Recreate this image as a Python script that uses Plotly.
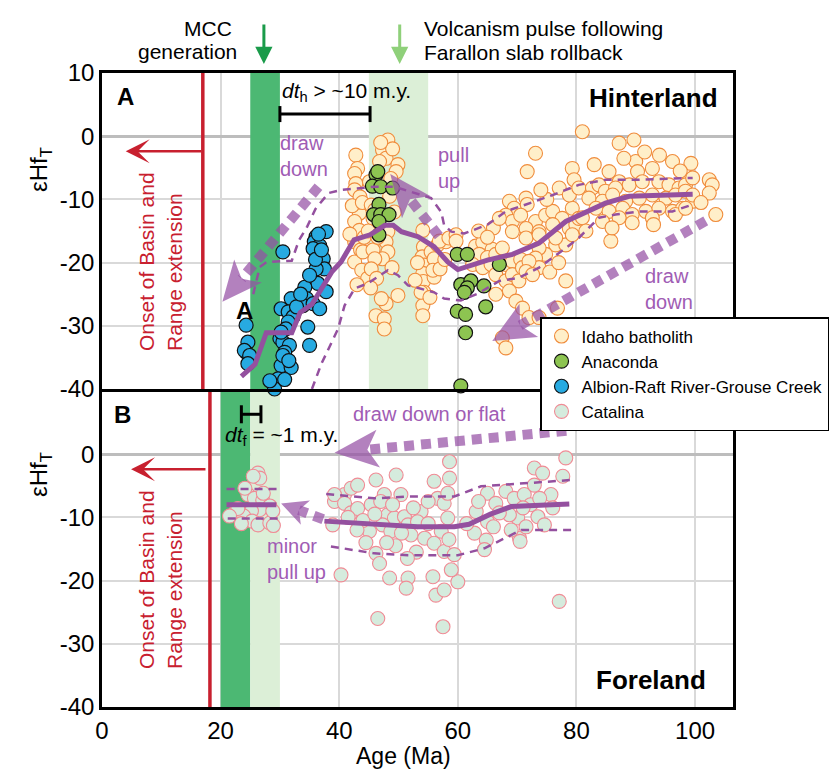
import math
import plotly.graph_objects as go

# ---------------- data ----------------
IDAHO = [
    # 40-45 Ma column
    (42.8, -3.0), (43.1, -5.1), (42.6, -5.9), (42.8, -7.5), (42.6, -8.5), (43.5, -9.6), (43.4, -12.2),
    (42.6, -13.5), (43.4, -14.9), (42.6, -16.7), (43.6, -18.0), (42.6, -19.9), (43.8, -21.2), (44.8, -22.5),
    (44.0, -18.3), (42.2, -11.0), (43.9, -10.5), (41.8, -15.5), (44.2, -16.0), (43.0, -23.5),
    # 45-51 Ma column
    (48.2, -0.6), (47.3, -2.2), (47.9, -3.5), (46.8, -4.0), (49.9, -4.5), (49.6, -5.6), (45.1, -7.2),
    (48.7, -6.7), (45.4, -10.9), (46.0, -11.7), (45.7, -13.0), (48.2, -15.1), (47.9, -16.7), (48.2, -18.3),
    (47.3, -19.4), (45.7, -18.0), (46.0, -19.4), (45.4, -21.0), (49.9, -25.2), (47.9, -26.5), (46.2, -28.4),
    (47.6, -28.9), (47.6, -30.5), (47.1, -25.7), (48.5, -9.5), (49.3, -12.0), (46.5, -16.0), (44.9, -15.0),
    (48.9, -20.8), (46.3, -22.5), (45.3, -24.0), (49.0, -2.0), (47.0, -1.0),
    # 52-60 Ma column
    (54.1, -14.9), (54.2, -17.5), (54.0, -19.1), (54.4, -20.4), (54.1, -21.7), (54.2, -23.0), (54.3, -24.7),
    (54.1, -26.8), (54.1, -28.4), (55.5, -18.3), (56.0, -19.4), (56.6, -17.2), (58.0, -16.7), (56.0, -22.3),
    (55.8, -21.2), (53.8, -24.7), (55.3, -25.5), (57.0, -21.0), (56.9, -16.6), (58.5, -16.1), (59.7, -15.6),
    (53.2, -20.0), (57.8, -19.5), (52.8, -22.8),
    # 60-80 Ma lower group
    (59.7, -16.6), (63.0, -17.4), (64.2, -16.8), (65.8, -17.9), (63.6, -18.7), (65.0, -19.2), (66.4, -18.7),
    (67.5, -17.7), (62.5, -20.3), (64.2, -20.8), (65.6, -20.3), (68.1, -20.3), (69.2, -19.8), (70.6, -19.5),
    (66.4, -21.9), (68.1, -22.9), (69.2, -21.9), (70.9, -20.8), (70.3, -22.9), (66.4, -25.0), (68.7, -24.5),
    (69.8, -26.1), (70.9, -27.2), (67.5, -31.9), (68.1, -33.5), (72.0, -28.7), (73.7, -28.7), (76.8, -27.2),
    (78.2, -22.9), (76.5, -17.2), (78.2, -17.2), (74.8, -18.7), (73.7, -17.7), (73.1, -19.3), (73.7, -20.8),
    (72.0, -19.8), (71.5, -21.4), (72.6, -21.9), (75.5, -21.5), (77.0, -20.0),
    # 60-80 Ma upper group
    (68.7, -10.3), (69.5, -11.4), (71.5, -9.8), (71.7, -10.8), (68.1, -12.5), (69.2, -13.5), (70.6, -12.5),
    (73.1, -13.5), (74.8, -12.5), (76.0, -11.9), (77.6, -13.0), (79.3, -11.4), (69.2, -15.1), (71.5, -14.6),
    (73.7, -15.1), (76.0, -14.0), (78.8, -14.6), (79.9, -14.0), (71.5, -16.1), (73.7, -15.6), (76.5, -16.1),
    (79.3, -15.6), (80.4, -13.0), (73.1, -2.7), (71.7, -5.6), (79.3, -5.1), (79.6, -6.9), (77.1, -8.2),
    (78.8, -9.3), (80.4, -8.2), (66.0, -14.5), (67.0, -13.0), (63.5, -15.0), (65.0, -16.0), (75.0, -10.0),
    (74.0, -8.5),
    # 80-104 Ma
    (81.0, 0.7), (87.2, -1.1), (89.7, -0.6), (85.5, -5.6), (87.2, -7.2), (90.0, -4.0), (90.3, -5.6),
    (92.8, -5.1), (96.2, -4.0), (99.3, -4.3), (82.7, -8.2), (83.8, -7.7), (84.9, -8.7), (86.6, -8.2),
    (88.9, -7.7), (91.1, -7.2), (93.9, -7.2), (95.6, -7.7), (97.3, -8.2), (98.4, -7.7), (99.6, -6.6),
    (82.1, -9.8), (84.4, -10.3), (86.1, -9.3), (88.3, -10.3), (90.6, -9.8), (92.8, -9.3), (95.1, -9.8),
    (96.7, -9.3), (98.4, -8.7), (83.3, -11.4), (85.5, -11.9), (87.8, -11.4), (89.4, -12.4), (91.7, -11.9),
    (93.9, -11.4), (96.2, -11.9), (97.9, -11.4), (99.6, -10.3), (81.0, -12.9), (84.4, -13.5), (87.2, -12.9),
    (89.4, -13.7), (92.8, -12.9), (96.7, -12.4), (98.4, -11.4), (85.8, -16.6), (81.6, -15.0), (102.4, -6.9),
    (102.9, -7.7), (102.4, -9.0), (103.5, -12.4), (99.6, -9.3), (94.0, -3.0), (88.0, -3.5), (91.5, -2.5),
    (83.0, -4.5), (97.5, -5.5), (101.0, -10.5), (93.0, -14.0), (86.0, -14.5),
]

ANACONDA = [
    (46.2, -6.1), (45.6, -7.9), (47.0, -8.0), (49.0, -8.2), (46.7, -10.8), (45.8, -12.4), (47.0, -12.4),
    (48.4, -12.4), (46.7, -13.5), (46.7, -15.6), (46.5, -5.6), (59.9, -18.7), (61.6, -18.7), (67.0, -20.3),
    (60.5, -23.5), (62.2, -22.9), (61.6, -24.0), (64.4, -23.7), (61.1, -24.7), (59.9, -27.7), (61.3, -28.2),
    (64.7, -27.0), (61.3, -31.1), (60.5, -39.5),
]

ALBION = [
    (24.3, -29.9), (24.6, -32.6), (24.3, -34.2), (24.0, -33.9), (24.9, -34.7), (24.6, -36.0), (30.5, -18.3),
    (37.8, -15.1), (36.1, -15.9), (35.8, -16.7), (36.7, -17.3), (35.6, -17.8), (37.3, -19.4), (37.5, -21.0),
    (36.1, -21.0), (36.4, -23.3), (37.8, -24.6), (34.2, -23.9), (31.9, -25.7), (34.5, -25.7), (33.9, -26.8),
    (35.6, -26.5), (36.7, -27.3), (30.2, -27.3), (31.4, -27.8), (32.2, -28.6), (31.4, -29.4), (34.7, -30.2),
    (35.0, -33.1), (30.0, -32.0), (30.5, -32.6), (31.6, -33.1), (30.8, -34.2), (30.2, -36.3), (31.9, -36.6),
    (29.7, -38.4), (29.1, -40.0), (30.8, -38.5), (28.3, -38.7), (30.5, -34.7), (31.0, -30.5), (30.2, -31.0),
    (32.8, -27.0), (33.5, -25.0), (35.0, -22.0), (36.0, -19.5), (36.5, -15.5), (37.0, -18.0), (30.0, -40.2),
    (31.5, -35.5),
]

CATALINA = [
    (26.3, -3.0), (26.6, -3.8), (25.5, -3.5), (24.6, -6.4), (25.7, -7.0), (27.1, -7.3), (28.3, -8.2),
    (26.6, -8.8), (25.2, -9.0), (22.4, -9.3), (23.9, -9.8), (25.3, -10.6), (26.3, -11.2), (28.3, -10.9),
    (28.8, -9.0), (22.9, -8.6), (21.5, -9.8), (24.1, -5.4), (27.2, -6.2), (23.5, -11.0), (28.9, -11.3),
    (39.2, -7.5), (40.9, -6.4), (39.2, -6.4), (40.9, -7.8), (42.0, -5.4), (43.1, -4.9), (46.2, -4.1),
    (49.6, -3.3), (38.9, -11.2), (42.0, -9.3), (43.1, -8.6), (45.4, -8.0), (45.1, -12.2), (47.6, -6.4),
    (50.4, -6.4), (48.2, -9.6), (49.3, -10.1), (51.0, -9.9), (47.3, -11.2), (48.7, -12.2), (51.6, -11.2),
    (46.2, -15.7), (46.8, -17.3), (48.5, -19.6), (51.6, -19.6), (51.3, -21.2), (40.3, -19.1), (46.5, -26.0),
    (57.5, -27.3), (56.3, -22.3), (57.7, -21.5), (60.0, -20.2), (58.9, -18.3), (55.8, -19.4), (53.8, -9.1),
    (53.2, -10.7), (52.1, -12.8), (54.4, -13.3), (56.0, -14.1), (57.7, -15.4), (59.4, -15.9), (57.2, -12.2),
    (58.3, -10.1), (56.6, -7.0), (57.7, -7.8), (56.0, -4.3), (58.6, -3.8), (58.6, -1.2), (58.3, -6.2),
    (47.0, -7.5), (49.0, -8.0), (44.0, -10.5), (46.0, -9.5), (50.5, -12.5), (52.5, -8.5), (44.5, -14.0),
    (55.0, -11.0), (43.0, -12.0), (49.5, -14.5), (53.0, -15.5), (58.5, -13.5), (51.5, -16.5), (41.5, -10.0),
    (55.0, -7.5), (48.0, -14.0),
    (63.1, -9.1), (65.0, -6.2), (66.4, -7.8), (68.1, -5.9), (69.5, -7.0), (71.2, -6.4), (72.9, -2.2),
    (74.3, -3.0), (75.7, -6.4), (72.9, -4.9), (72.3, -8.0), (70.1, -10.1), (68.7, -9.6), (67.0, -9.3),
    (65.0, -10.7), (62.8, -12.5), (64.8, -13.6), (64.5, -15.1), (70.4, -13.3), (73.5, -9.9), (74.6, -11.2),
    (77.7, -3.5), (78.2, -0.6), (77.1, -23.3), (71.0, -8.5), (73.8, -7.0), (66.0, -11.5), (69.0, -12.0),
    (61.5, -11.0), (63.5, -7.5), (76.0, -8.5), (71.5, -11.5), (70.5, -13.8),
]

# running median and envelopes, panel A (hinterland)
MED_A_X = [23.5, 25.8, 27.7, 32.0, 33.4, 35.4, 38.8, 40.3, 42.5, 45.2, 47.7, 49.1, 50.5, 53.3, 56.0, 58.3,
           60.0, 62.8, 65.0, 69.2, 73.7, 78.2, 84.9, 88.9, 99.6]
MED_A_Y = [-38.0, -36.1, -31.1, -31.1, -27.9, -26.6, -21.4, -19.9, -16.4, -15.6, -14.1, -14.1, -15.1, -15.9,
           -17.5, -19.9, -21.1, -20.2, -19.6, -18.7, -16.9, -13.5, -10.6, -9.5, -9.2]
UP_A_X = [25.5, 26.6, 27.8, 32.0, 33.2, 34.6, 36.0, 38.2, 40.3, 43.1, 45.9, 49.3, 52.1, 55.5, 57.2, 57.7,
          58.9, 61.1, 65.0, 68.1, 71.5, 76.0, 80.4, 84.9, 90.6, 99.6]
UP_A_Y = [-25.0, -20.7, -19.9, -19.7, -16.5, -14.3, -11.5, -9.0, -8.5, -8.3, -8.0, -8.0, -8.8, -9.8, -12.0,
          -14.1, -15.1, -15.4, -14.0, -11.9, -10.8, -9.3, -7.7, -6.9, -6.9, -6.6]
LO_A_X = [35.4, 37.0, 39.8, 40.9, 42.6, 44.8, 48.2, 49.9, 51.6, 53.8, 56.0, 57.7, 60.5, 63.4, 67.0, 70.3,
          73.7, 78.2, 80.4, 83.8, 86.6, 90.6, 96.2, 99.6]
LO_A_Y = [-40.0, -36.0, -30.5, -26.8, -24.1, -23.3, -21.2, -22.0, -23.6, -24.1, -24.7, -25.7, -26.0, -24.9,
          -22.9, -22.4, -20.8, -17.7, -16.1, -12.9, -12.4, -11.9, -11.9, -10.8]

# panel B (foreland)
MED_B1_X, MED_B1_Y = [21.0, 29.4], [-8.0, -8.0]
UP_B1_X, UP_B1_Y = [21.0, 29.7], [-5.5, -5.5]
LO_B1_X, LO_B1_Y = [21.2, 29.7], [-10.2, -10.2]
MED_B2_X = [37.5, 46.5, 53.2, 59.4, 61.9, 65.5, 69.0, 78.8]
MED_B2_Y = [-10.6, -11.2, -11.5, -11.5, -11.1, -9.5, -8.3, -7.9]
UP_B2_X = [37.8, 45.9, 51.6, 59.4, 63.9, 70.7, 79.1]
UP_B2_Y = [-6.3, -7.0, -6.7, -6.7, -5.1, -4.6, -4.1]
LO_B2_X = [38.6, 45.9, 51.6, 60.0, 64.5, 70.7, 79.1]
LO_B2_Y = [-14.6, -15.7, -16.0, -16.0, -14.9, -12.0, -12.0]

# interpretive arrows: (start, tip) in data units
ARROWS_A = [((36.5, -8.0), (20.3, -26.2)), ((56.8, -15.8), (48.6, -6.0)), ((101.8, -13.4), (65.8, -32.4))]
ARROWS_B = [((78.3, 3.7), (39.2, 0.2)), ((37.3, -10.3), (30.2, -7.8))]

# time windows (Ma)
BANDS_A = [(25, 30, "dark"), (45, 55, "light")]
BANDS_B = [(20, 25, "dark"), (25, 30, "light")]
ONSET_A, ONSET_B = 17.0, 18.2
DT_H = (30.0, 45.2)
DT_F = (23.5, 26.8)

X_TICKS = [0, 20, 40, 60, 80, 100]
YA_TICKS = [10, 0, -10, -20, -30, -40]
YB_TICKS = [0, -10, -20, -30, -40]

# ---------------- layout constants ----------------
W, H = 838, 771
ML, MR, MT, MB = 94, 113, 65, 72
X_RANGE = [0, 106.4]
YA_RANGE = [-40, 10]
YB_RANGE = [-40, 10.3]
SPLIT = 0.5016
KX = (W - ML - MR) / (X_RANGE[1] - X_RANGE[0])
PH = H - MT - MB
PW = W - ML - MR
KYA = PH * (1 - SPLIT) / (YA_RANGE[1] - YA_RANGE[0])
KYB = PH * SPLIT / (YB_RANGE[1] - YB_RANGE[0])

FONT = "Liberation Sans, Arial, sans-serif"
PURPLE = "#94509f"
PURPLE_T = "#a05cb4"
ARROW_FILL = "rgba(150,80,165,0.72)"
RED = "#c8202f"
DARK_G = "#4cb873"
LIGHT_G = "#dcefd7"

fig = go.Figure()

def add_points(pts, name, fill, edge, ew, xa, ya):
    fig.add_trace(go.Scatter(
        x=[p[0] for p in pts], y=[p[1] for p in pts], mode="markers", name=name,
        xaxis=xa, yaxis=ya, cliponaxis=False,
        marker=dict(size=14, color=fill, line=dict(color=edge, width=ew)),
    ))

add_points(IDAHO, "Idaho batholith", "#ffefc9", "#f08c3c", 1.1, "x2", "y2")
add_points(ANACONDA, "Anaconda", "#8dc451", "#111111", 1.2, "x2", "y2")
add_points(ALBION, "Albion-Raft River-Grouse Creek", "#27aae1", "#111111", 1.2, "x2", "y2")
add_points(CATALINA, "Catalina", "#d5ebdd", "#f08b95", 1.1, "x", "y")

def add_line(xs, ys, xa, ya, width, dash):
    fig.add_trace(go.Scatter(x=xs, y=ys, mode="lines", xaxis=xa, yaxis=ya, showlegend=False,
                             hoverinfo="skip", line=dict(color=PURPLE, width=width, dash=dash)))

DASH = "8px,6px"
add_line(UP_A_X, UP_A_Y, "x2", "y2", 2.5, DASH)
add_line(LO_A_X, LO_A_Y, "x2", "y2", 2.5, DASH)
add_line(MED_A_X, MED_A_Y, "x2", "y2", 5, "solid")
add_line(UP_B1_X, UP_B1_Y, "x", "y", 2.5, DASH)
add_line(LO_B1_X, LO_B1_Y, "x", "y", 2.5, DASH)
add_line(MED_B1_X, MED_B1_Y, "x", "y", 5, "solid")
add_line(UP_B2_X, UP_B2_Y, "x", "y", 2.5, DASH)
add_line(LO_B2_X, LO_B2_Y, "x", "y", 2.5, DASH)
add_line(MED_B2_X, MED_B2_Y, "x", "y", 5, "solid")

shapes = []

def head(start, tip, ky, L, Wd, notch):
    dx = (tip[0] - start[0]) * KX
    dy = (tip[1] - start[1]) * ky
    n = math.hypot(dx, dy)
    ux, uy = dx / n, dy / n
    px, py = -uy, ux
    def d(ox, oy):
        return (tip[0] + ox / KX, tip[1] + oy / ky)
    c1 = d(-ux * L + px * Wd, -uy * L + py * Wd)
    c2 = d(-ux * L - px * Wd, -uy * L - py * Wd)
    nt = d(-ux * (L - notch), -uy * (L - notch))
    path = "M {},{} L {},{} L {},{} L {},{} Z".format(tip[0], tip[1], c1[0], c1[1], nt[0], nt[1], c2[0], c2[1])
    return path, nt

def add_arrow(start, tip, xa, ya, ky, L, Wd, notch):
    path, nt = head(start, tip, ky, L, Wd, notch)
    fig.add_trace(go.Scatter(x=[start[0], nt[0]], y=[start[1], nt[1]], mode="lines", xaxis=xa, yaxis=ya,
                             showlegend=False, hoverinfo="skip",
                             line=dict(color=ARROW_FILL, width=10, dash="10px,7px")))
    shapes.append(dict(type="path", path=path, xref=xa, yref=ya, fillcolor=ARROW_FILL,
                       line=dict(width=0), layer="above"))

add_arrow(*ARROWS_A[0], "x2", "y2", KYA, 40, 18, 10)
add_arrow(*ARROWS_A[1], "x2", "y2", KYA, 42, 18, 10)
add_arrow(*ARROWS_A[2], "x2", "y2", KYA, 42, 19, 10)
add_arrow(*ARROWS_B[0], "x", "y", KYB, 44, 19, 11)
add_arrow(*ARROWS_B[1], "x", "y", KYB, 26, 13, 7)

# bands
for x0, x1, kind in BANDS_A:
    shapes.append(dict(type="rect", xref="x2", yref="y2", x0=x0, x1=x1, y0=YA_RANGE[0], y1=YA_RANGE[1],
                       fillcolor=DARK_G if kind == "dark" else LIGHT_G, line=dict(width=0), layer="between"))
for x0, x1, kind in BANDS_B:
    shapes.append(dict(type="rect", xref="x", yref="y", x0=x0, x1=x1, y0=YB_RANGE[0], y1=YB_RANGE[1],
                       fillcolor=DARK_G if kind == "dark" else LIGHT_G, line=dict(width=0), layer="between"))
# onset lines
shapes.append(dict(type="line", xref="x2", yref="y2", x0=ONSET_A, x1=ONSET_A, y0=YA_RANGE[0], y1=YA_RANGE[1],
                   line=dict(color=RED, width=3.5), layer="between"))
shapes.append(dict(type="line", xref="x", yref="y", x0=ONSET_B, x1=ONSET_B, y0=YB_RANGE[0], y1=YB_RANGE[1],
                   line=dict(color=RED, width=3.5), layer="between"))

# dt bars
def hbar(x0, x1, y, xa, ya, ky, cap_px):
    c = cap_px / ky
    for seg in [(x0, y, x1, y), (x0, y - c, x0, y + c), (x1, y - c, x1, y + c)]:
        shapes.append(dict(type="line", xref=xa, yref=ya, x0=seg[0], y0=seg[1], x1=seg[2], y1=seg[3],
                           line=dict(color="black", width=3), layer="above"))

hbar(DT_H[0], DT_H[1], 3.5, "x2", "y2", KYA, 8)
hbar(DT_F[0], DT_F[1], 6.3, "x", "y", KYB, 9)

ann = []

def txt(text, x, y, xa, ya, size=20, color="black", xanchor="left", yanchor="middle", bold=False,
        angle=0, align="left"):
    ann.append(dict(text=("<b>%s</b>" % text) if bold else text, x=x, y=y, xref=xa, yref=ya,
                    showarrow=False, xanchor=xanchor, yanchor=yanchor, textangle=angle, align=align,
                    font=dict(family=FONT, size=size, color=color)))

# top labels
txt("MCC", 226, 20, "pixel", "pixel", 21, xanchor="right")
txt("generation", 231, 44, "pixel", "pixel", 21, xanchor="right")
txt("Volcanism pulse following", 414, 20, "pixel", "pixel", 21)
txt("Farallon slab rollback", 414, 45, "pixel", "pixel", 21)

def to_paper(a):
    if a["xref"] == "pixel":
        a["x"] = (a["x"] - ML) / PW
        a["xref"] = "paper"
    if a["yref"] == "pixel":
        a["y"] = (H - MB - a["y"]) / PH
        a["yref"] = "paper"
    return a

# panel A texts
txt("A", 3.9, 6.3, "x2", "y2", 24, bold=True, xanchor="center")
txt("Hinterland", 104.2, 6.0, "x2", "y2", 26, bold=True, xanchor="right")
txt("<i>dt</i><sub>h</sub> > ~10 m.y.", 30.0, 7.0, "x2", "y2", 21)
txt("draw<br>down", 29.7, -3.2, "x2", "y2", 20, PURPLE_T)
txt("pull<br>up", 56.3, -5.1, "x2", "y2", 20, PURPLE_T)
txt("draw<br>down", 91.2, -24.1, "x2", "y2", 20, PURPLE_T)
txt("A", 24.1, -27.6, "x2", "y2", 24, bold=True, xanchor="center")
txt("Onset of Basin and<br>Range extension", 9.9, -19.8, "x2", "y2", 21, RED, xanchor="center",
    angle=-90)
# panel B texts
txt("B", 3.4, 6.25, "x", "y", 24, bold=True, xanchor="center")
txt("Foreland", 102.2, -35.8, "x", "y", 26, bold=True, xanchor="right")
txt("<i>dt</i><sub>f</sub> = ~1 m.y.", 20.4, 2.85, "x", "y", 21)
txt("draw down or flat", 42.0, 6.3, "x", "y", 20, PURPLE_T)
txt("minor<br>pull up", 27.5, -16.6, "x", "y", 20, PURPLE_T)
txt("Onset of Basin and<br>Range extension", 9.9, -19.8, "x", "y", 21, RED, xanchor="center", angle=-90)
# axis titles
txt("εHf<sub>T</sub>", 32, 162, "pixel", "pixel", 24, xanchor="center", angle=-90)
txt("εHf<sub>T</sub>", 32, 467, "pixel", "pixel", 24, xanchor="center", angle=-90)
txt("Age (Ma)", 395, 748, "pixel", "pixel", 23, xanchor="center")

ann = [to_paper(a) for a in ann]

# green arrows
for xv, col in [(27.3, "#1a9b4a"), (50.2, "#8fd07a")]:
    ann.append(dict(x=xv, y=(H - MB - 56) / PH, xref="x2", yref="paper", ax=0, ay=-41, axref="pixel",
                    ayref="pixel", showarrow=True, arrowhead=2, arrowsize=1.15, arrowwidth=3, arrowcolor=col,
                    text=""))

# red onset arrows
ann.append(dict(x=4.0, y=-2.4, ax=ONSET_A, ay=-2.4, xref="x2", yref="y2", axref="x2", ayref="y2",
                showarrow=True, arrowhead=3, arrowsize=1.6, arrowwidth=2.5, arrowcolor=RED, text=""))
ann.append(dict(x=4.9, y=-2.4, ax=ONSET_B - 0.5, ay=-2.4, xref="x", yref="y", axref="x", ayref="y",
                showarrow=True, arrowhead=3, arrowsize=1.6, arrowwidth=2.5, arrowcolor=RED, text=""))

axis_common = dict(showline=True, linecolor="black", linewidth=2.5, ticks="",
                   showgrid=True, gridcolor="#d9d9d9", gridwidth=1.5,
                   tickfont=dict(family=FONT, size=24, color="black"))

fig.update_layout(
    width=W, height=H, margin=dict(l=ML, r=MR, t=MT, b=MB),
    paper_bgcolor="white", plot_bgcolor="white",
    font=dict(family=FONT, color="black"),
    xaxis=dict(domain=[0, 1], anchor="y", range=X_RANGE, tickvals=X_TICKS, mirror=False,
               ticktext=[str(v) for v in X_TICKS], zeroline=False, **axis_common),
    xaxis2=dict(domain=[0, 1], anchor="y2", range=X_RANGE, tickvals=X_TICKS, matches="x", mirror=True,
                showticklabels=False, zeroline=False, **axis_common),
    yaxis=dict(domain=[0, SPLIT], anchor="x", range=YB_RANGE, tickvals=YB_TICKS, mirror=True,
               ticktext=[str(v) for v in YB_TICKS], zeroline=True, zerolinecolor="#bdbdbd",
               zerolinewidth=2.5, **axis_common),
    yaxis2=dict(domain=[SPLIT, 1], anchor="x2", range=YA_RANGE, tickvals=YA_TICKS, mirror=True,
                ticktext=[str(v) for v in YA_TICKS], zeroline=True, zerolinecolor="#bdbdbd",
                zerolinewidth=2.5, **axis_common),
    shapes=shapes,
    annotations=ann,
    showlegend=True,
    legend=dict(x=(532 - ML) / PW, y=(H - MB - 309) / PH, xanchor="left", yanchor="top",
                bgcolor="white", bordercolor="black", borderwidth=1.5,
                font=dict(family=FONT, size=17, color="black"), tracegroupgap=0, itemsizing="trace"),
)

fig.write_html("out.html")
